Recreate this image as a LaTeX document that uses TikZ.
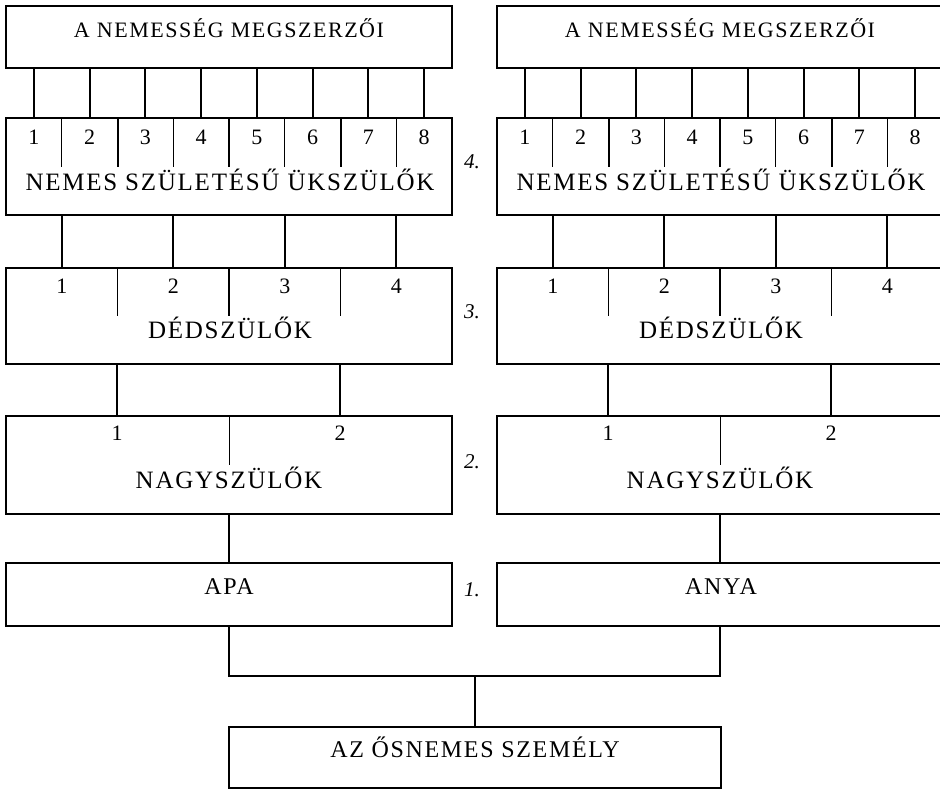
\documentclass[tikz,border=0pt]{standalone}
\usepackage{fontspec}
\setmainfont{Liberation Serif}
\newfontfamily\spc{Liberation Serif}[LetterSpace=7]
\begin{document}
\begin{tikzpicture}[x=1pt,y=-1pt,
  box/.style={draw, line width=1.8pt, inner sep=0pt, minimum width=446pt},
  conn/.style={line width=2pt},
  thindiv/.style={line width=0.9pt},
  lowconn/.style={line width=1.4pt},
  num/.style={anchor=base, inner sep=0pt, font=\fontsize{22}{26}\selectfont},
  ttl/.style={anchor=base, inner sep=0pt, font=\spc\fontsize{25}{29}\selectfont},
  ttlsmall/.style={anchor=base, inner sep=0pt, font=\spc\fontsize{22}{26}\selectfont},
  ttlmid/.style={anchor=base, inner sep=0pt, font=\spc\fontsize{24}{28}\selectfont},
  lvl/.style={anchor=base, inner sep=0pt, font=\itshape\fontsize{21}{25}\selectfont}]
\useasboundingbox (0,0) rectangle (940,790);
\clip (0,0) rectangle (940,790);
\foreach \p/\dx in {L/0,R/491}{
 \begin{scope}[xshift=\dx pt]
  % boxes
  \node[box, minimum height=62pt] (\p-top) at (229,37) {};
  \node[box, minimum height=97pt] (\p-g4) at (229,166.5) {};
  \node[box, minimum height=96pt] (\p-g3) at (229,316) {};
  \node[box, minimum height=98pt] (\p-g2) at (229,465) {};
  % texts
  \node[ttlsmall] (\p-toptxt) at (229,37) {A NEMESSÉG MEGSZERZŐI};
  \node[ttl] (\p-g4txt) at (230,190) {NEMES SZÜLETÉSŰ ÜKSZÜLŐK};
  \node[ttl] (\p-g3txt) at (230,338) {DÉDSZÜLŐK};
  \node[ttl] (\p-g2txt) at (229,488) {NAGYSZÜLŐK};
  % generation 4 cells
  \foreach \k in {1,...,8}{
    \coordinate (\p-c4\k) at ({6+55.75*(\k-0.5)},0);
    \node[num] (\p-n4\k) at ({6+55.75*(\k-0.5)},144) {\k};
    \draw[conn] (\p-c4\k |- \p-top.south) -- (\p-c4\k |- \p-g4.north);
  }
  \foreach \k in {1,...,7}{
    \coordinate (\p-d4\k) at ({6+55.75*\k},167);
  }
  \foreach \k in {1,3,5,7}{\draw[thindiv] (\p-d4\k |- \p-g4.north) -- (\p-d4\k);}
  \foreach \k in {2,4,6}{\draw[conn] (\p-d4\k |- \p-g4.north) -- (\p-d4\k);}
  % generation 3 cells
  \foreach \k in {1,...,4}{
    \coordinate (\p-c3\k) at ({6+111.5*(\k-0.5)},0);
    \node[num] (\p-n3\k) at ({6+111.5*(\k-0.5)},293) {\k};
    \draw[conn] (\p-c3\k |- \p-g4.south) -- (\p-c3\k |- \p-g3.north);
  }
  \foreach \k in {1,...,3}{
    \coordinate (\p-d3\k) at ({6+111.5*\k},316);
  }
  \foreach \k in {1,3}{\draw[thindiv] (\p-d3\k |- \p-g3.north) -- (\p-d3\k);}
  \draw[conn] (\p-d32 |- \p-g3.north) -- (\p-d32);
  % generation 2 cells
  \coordinate (\p-c21) at (117,0);
  \coordinate (\p-c22) at (340,0);
  \foreach \k in {1,2}{
    \node[num] (\p-n2\k) at (\p-c2\k |- 0,440) {\k};
    \draw[conn] (\p-c2\k |- \p-g3.south) -- (\p-c2\k |- \p-g2.north);
  }
  \coordinate (\p-d21) at (229,465);
  \draw[thindiv] (\p-d21 |- \p-g2.north) -- (\p-d21);
 \end{scope}
}
% generation 1
\node[box, minimum height=63pt] (L-g1) at (229,594.5) {};
\node[box, minimum height=63pt] (R-g1) at (720,594.5) {};
\node[ttlmid] (L-g1txt) at (229,594) {APA};
\node[ttlmid] (R-g1txt) at (721,594) {ANYA};
\draw[lowconn] (L-g2.south) -- (L-g1.north);
\draw[lowconn] (R-g2.south) -- (R-g1.north);
% bottom
\node[box, minimum width=492pt, minimum height=61pt] (az) at (475,757.5) {};
\node[ttlmid] (aztxt) at (475,757) {AZ ŐSNEMES SZEMÉLY};
\coordinate (join) at (475,676);
\draw[lowconn] (L-g1.south) |- (join) -| (R-g1.south);
\draw[lowconn] (join) -- (az.north);
% level numbers
\node[lvl] (lv4) at (472,168) {4.};
\node[lvl] (lv3) at (472,318) {3.};
\node[lvl] (lv2) at (472,468) {2.};
\node[lvl] (lv1) at (472,596) {1.};
\end{tikzpicture}
\end{document}
